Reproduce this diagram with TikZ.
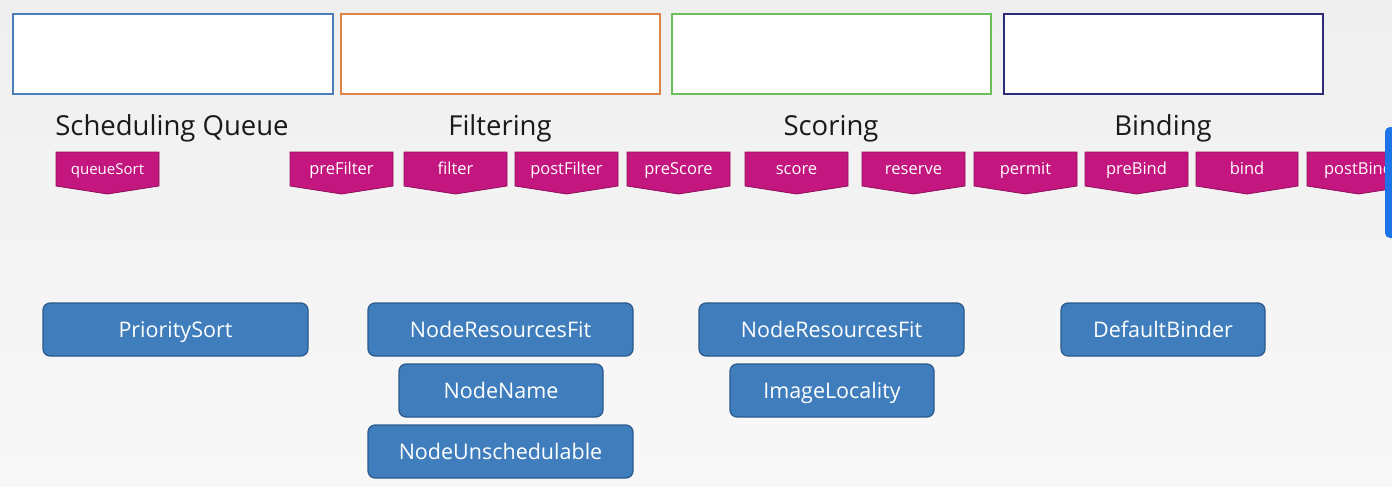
\documentclass[tikz,border=0pt]{standalone}
\usepackage{fontspec}
\setmainfont{Open Sans}
\definecolor{bgtop}{HTML}{EFEFEF}
\definecolor{bgbot}{HTML}{F8F8F8}
\definecolor{cblue}{HTML}{4A7EBB}
\definecolor{corange}{HTML}{DD8449}
\definecolor{cgreen}{HTML}{6CC05A}
\definecolor{cnavy}{HTML}{2E2A7A}
\definecolor{tabfillc}{HTML}{C4167F}
\definecolor{tablinec}{HTML}{8F0F5C}
\definecolor{boxfillc}{HTML}{3F7DBD}
\definecolor{boxlinec}{HTML}{2B5A8C}
\definecolor{barc}{HTML}{1D74E6}
\definecolor{headc}{HTML}{1A1A1A}
\tikzset{
  stagebox/.style={draw=#1, line width=1.8pt, fill=white},
  heading/.style={font=\fontsize{27.5}{32}\selectfont, text=headc, inner sep=0pt, anchor=base},
  tabshape/.style={fill=tabfillc, draw=tablinec, line width=0.8pt, line join=miter},
  tabtext/.style={font=\fontsize{16.5}{20}\selectfont, text=white, inner sep=0pt,
    text height=11.9pt, text depth=0pt},
  plugin/.style={draw=boxlinec, line width=1.2pt, fill=boxfillc, rounded corners=7pt,
    text=white, font=\fontsize{21.5}{26}\selectfont, inner sep=0pt,
    text height=15.5pt, text depth=0pt}
}
\newcommand\tabnode[5][]{%
  \fill[tabshape] (#3,152) -- (#4,152) -- (#4,186) -- ({(#3+#4)/2},194) -- (#3,186) -- cycle;
  \node[tabtext,#1] (#2) at ({(#3+#4)/2},169) {#5};}
\newcommand\plugbox[6]{%
  \node[plugin, minimum width=#4pt-#2pt, minimum height=#5pt-#3pt] (#1) at ({(#2+#4)/2},{(#3+#5)/2}) {#6};}
\begin{document}
\begin{tikzpicture}[x=1pt,y=-1pt]
\useasboundingbox (0,0) rectangle (1392,487);
\clip (0,0) rectangle (1392,487);
\shade[top color=bgtop, bottom color=bgbot] (0,0) rectangle (1392,487);
% stage boxes
\draw[stagebox=cblue] (13,14) rectangle (333,94);
\draw[stagebox=corange] (341,14) rectangle (660,94);
\draw[stagebox=cgreen] (672,14) rectangle (991,94);
\draw[stagebox=cnavy] (1004,14) rectangle (1323,94);
% headings
\node[heading] (hq) at (172,135) {Scheduling Queue};
\node[heading] (hf) at (500,135) {Filtering};
\node[heading] (hs) at (831,135) {Scoring};
\node[heading] (hb) at (1163,135) {Binding};
% extension point tabs
\tabnode[font=\fontsize{15}{18}\selectfont, text height=10.8pt]{qs}{56}{159}{queueSort}
\tabnode{pf}{290}{393}{preFilter}
\tabnode{fi}{404}{507}{filter}
\tabnode{pof}{515}{618}{postFilter}
\tabnode{ps}{627}{730}{preScore}
\tabnode{sc}{745}{848}{score}
\tabnode{rs}{862}{965}{reserve}
\tabnode{pe}{974}{1077}{permit}
\tabnode{pb}{1085}{1188}{preBind}
\tabnode{bi}{1196}{1298}{bind}
\tabnode{pob}{1307}{1410}{postBind}
% plugins
\plugbox{prio}{43}{303}{308}{356}{PrioritySort}
\plugbox{nrf1}{368}{303}{633}{356}{NodeResourcesFit}
\plugbox{nn}{399}{364}{603}{417}{NodeName}
\plugbox{nu}{368}{425}{633}{478}{NodeUnschedulable}
\plugbox{nrf2}{699}{303}{964}{356}{NodeResourcesFit}
\plugbox{il}{730}{364}{934}{417}{ImageLocality}
\plugbox{db}{1061}{303}{1265}{356}{DefaultBinder}
% side bar
\fill[barc, rounded corners=5pt] (1385,127) rectangle (1400,238);
\end{tikzpicture}
\end{document}
